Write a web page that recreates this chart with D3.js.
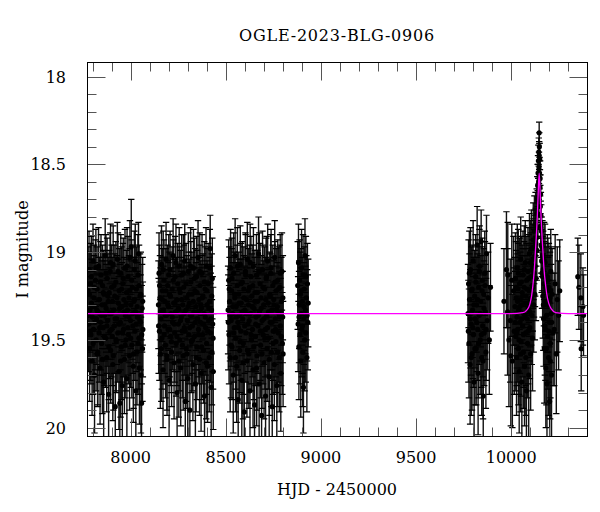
<html>
<head>
  <script src="https://d3js.org/d3.v7.min.js"></script>
  <title>OGLE-2023-BLG-0906</title>
  <style>
    body { margin: 0; background: #fff; }
    text { font-family: "DejaVu Serif", serif; fill: #000; }
  </style>
</head>
<body>
<div id="chart"></div>
<script type="text/javascript">

// photometry per season: [HJD-2450000, I mag, error]
var season1 = [
  [7776,19.22,.25],[7779,19.41,.27],[7781,19.10,.22],[7784,19.55,.30],[7786,19.33,.24],[7789,19.18,.23],[7791,19.47,.28],[7794,19.29,.25],[7797,19.62,.31],[7799,19.37,.26],
  [7802,19.05,.21],[7805,19.44,.27],[7807,19.26,.24],[7810,19.70,.33],[7812,19.31,.25],[7815,19.16,.23],[7818,19.50,.29],[7820,19.38,.26],[7823,19.21,.24],[7826,19.58,.30],
  [7828,19.34,.25],[7831,19.08,.22],[7834,19.46,.28],[7836,19.27,.24],[7839,19.66,.32],[7842,19.40,.27],[7844,19.13,.23],[7847,19.52,.29],[7850,19.30,.25],[7852,19.19,.23],
  [7855,19.43,.27],[7858,19.74,.34],[7860,19.24,.24],[7863,19.36,.26],[7866,19.02,.21],[7868,19.49,.28],[7871,19.32,.25],[7874,19.60,.31],[7876,19.15,.23],[7879,19.39,.26],
  [7882,19.28,.25],[7884,19.81,.35],[7887,19.23,.24],[7890,19.45,.27],[7892,19.11,.22],[7895,19.56,.30],[7898,19.35,.26],[7900,19.20,.24],[7903,19.48,.28],[7906,19.64,.32],
  [7908,19.07,.22],[7911,19.33,.25],[7914,19.42,.27],[7916,19.25,.24],[7919,19.88,.36],[7922,19.17,.23],[7924,19.51,.29],[7927,19.38,.26],[7930,19.04,.21],[7932,19.46,.28],
  [7935,19.29,.25],[7938,19.68,.33],[7940,19.22,.24],[7943,19.86,.36],[7946,19.40,.27],[7948,19.12,.22],[7951,19.54,.30],[7954,19.31,.25],[7956,19.76,.34],[7959,19.18,.23],
  [7962,19.44,.27],[7964,19.27,.24],[7967,19.61,.31],[7970,19.09,.22],[7972,19.36,.26],[7975,19.50,.29],[7978,19.23,.24],[7980,19.72,.33],[7983,19.33,.25],[7986,19.14,.23],
  [7988,19.47,.28],[7991,19.26,.24],[7994,19.59,.31],[7996,19.03,.21],[7999,19.39,.26],[8001,19.30,.25],[8003,18.97,.27],[8006,19.53,.30],[8009,19.20,.24],[8011,19.42,.27],
  [8014,19.65,.32],[8017,19.28,.25],[8019,19.10,.22],[8022,19.45,.28],[8025,19.34,.25],[8027,19.79,.35],[8030,19.21,.24],[8033,19.57,.30],[8035,19.37,.26],[8038,19.13,.23],
  [8041,19.01,.18],[8043,19.49,.29],[8046,19.66,.32],[8049,19.25,.24],[8052,19.40,.27],[8054,19.70,.33],[8057,19.86,.36],[8060,19.32,.25],[8062,19.55,.30],[8064,19.44,.27],
  [7777,19.36,.26],[7783,19.24,.24],[7788,19.45,.28],[7793,19.14,.23],[7798,19.31,.25],[7803,19.52,.29],[7808,19.20,.24],[7813,19.40,.27],[7817,19.09,.22],[7822,19.33,.25],
  [7827,19.57,.30],[7832,19.27,.24],[7837,19.43,.27],[7841,19.17,.23],[7846,19.36,.26],[7851,19.61,.31],[7856,19.23,.24],[7861,19.48,.28],[7865,19.30,.25],[7870,19.12,.22],
  [7875,19.42,.27],[7880,19.25,.24],[7885,19.54,.30],[7889,19.35,.26],[7894,19.06,.22],[7899,19.44,.27],[7904,19.28,.25],[7909,19.59,.31],[7913,19.19,.23],[7918,19.38,.26],
  [7923,19.50,.29],[7928,19.26,.24],[7933,19.11,.22],[7937,19.41,.27],[7942,19.32,.25],[7947,19.62,.32],[7952,19.21,.24],[7957,19.46,.28],[7961,19.15,.23],[7966,19.34,.25],
  [7971,19.53,.30],[7976,19.29,.25],[7981,19.08,.22],[7985,19.43,.27],[7990,19.37,.26],[7995,19.22,.24],[8000,19.49,.28],[8005,19.16,.23],[8010,19.35,.26],[8015,19.58,.31],
  [8020,19.27,.24],[8024,19.05,.21],[8029,19.41,.27],[8034,19.31,.25],[8039,19.52,.29],[8044,19.19,.23],[8048,19.39,.26],[8053,19.24,.24],[8058,19.47,.28],[8063,19.28,.25]
];
var season2 = [
  [8146,19.30,.25],[8149,19.12,.23],[8151,19.45,.28],[8154,19.26,.24],[8156,19.58,.31],[8159,19.38,.26],[8162,19.07,.22],[8164,19.49,.29],[8167,19.22,.24],[8170,19.67,.33],
  [8172,19.33,.25],[8175,19.16,.23],[8178,19.42,.27],[8180,19.28,.25],[8183,19.53,.30],[8186,19.04,.21],[8188,19.36,.26],[8191,19.61,.32],[8194,19.19,.23],[8196,19.44,.27],
  [8199,19.31,.25],[8202,19.73,.34],[8204,19.24,.24],[8207,19.10,.22],[8210,19.48,.28],[8212,19.35,.26],[8215,19.57,.31],[8218,19.21,.24],[8220,19.40,.27],[8223,19.02,.21],
  [8226,19.29,.25],[8228,19.63,.32],[8231,19.46,.28],[8234,19.14,.23],[8236,19.34,.25],[8239,19.52,.30],[8242,19.27,.24],[8244,19.80,.35],[8247,19.18,.23],[8250,19.41,.27],
  [8252,19.32,.25],[8255,19.08,.22],[8258,19.50,.29],[8260,19.23,.24],[8263,19.66,.33],[8266,19.37,.26],[8268,19.13,.23],[8271,19.45,.28],[8274,19.30,.25],[8276,19.59,.31],
  [8279,19.20,.24],[8282,19.43,.27],[8284,19.05,.21],[8287,19.85,.36],[8290,19.33,.25],[8292,19.55,.30],[8295,19.26,.24],[8298,19.39,.26],[8300,19.72,.34],[8303,19.11,.22],
  [8306,19.47,.28],[8308,19.29,.25],[8311,19.90,.37],[8314,19.36,.26],[8316,19.17,.23],[8319,19.51,.29],[8322,19.24,.24],[8324,19.42,.27],[8327,19.64,.32],[8330,19.09,.22],
  [8332,19.34,.25],[8335,19.48,.28],[8338,19.22,.24],[8340,19.75,.34],[8343,19.31,.25],[8346,19.14,.23],[8348,19.54,.30],[8351,19.38,.26],[8354,19.03,.21],[8356,19.44,.27],
  [8359,19.27,.24],[8362,19.61,.32],[8364,19.19,.23],[8367,19.40,.27],[8370,19.69,.33],[8372,19.32,.25],[8375,19.12,.22],[8378,19.47,.28],[8380,19.25,.24],[8383,19.56,.30],
  [8386,19.35,.26],[8388,19.82,.35],[8391,19.21,.24],[8394,19.43,.27],[8396,19.08,.22],[8399,19.52,.29],[8402,19.30,.25],[8404,19.65,.32],[8407,19.18,.23],[8410,19.39,.26],
  [8413,19.60,.31],[8415,19.28,.25],[8418,18.98,.19],[8420,19.46,.28],[8423,19.77,.34],[8425,19.33,.25],[8427,19.57,.30],[8429,19.15,.23],[8431,19.41,.27],[8434,19.68,.33],
  [8147,19.42,.27],[8152,19.19,.23],[8157,19.34,.25],[8161,19.55,.30],[8166,19.27,.24],[8171,19.10,.22],[8176,19.47,.28],[8181,19.36,.26],[8185,19.22,.24],[8190,19.59,.31],
  [8195,19.30,.25],[8200,19.13,.23],[8205,19.44,.27],[8209,19.25,.24],[8214,19.51,.29],[8219,19.37,.26],[8224,19.16,.23],[8229,19.41,.27],[8233,19.29,.25],[8238,19.06,.22],
  [8243,19.48,.28],[8248,19.33,.25],[8253,19.62,.32],[8257,19.21,.24],[8262,19.39,.26],[8267,19.27,.24],[8272,19.53,.30],[8277,19.12,.22],[8281,19.35,.26],[8286,19.45,.28],
  [8291,19.18,.23],[8296,19.58,.31],[8301,19.31,.25],[8305,19.24,.24],[8310,19.43,.27],[8315,19.08,.22],[8320,19.36,.26],[8325,19.50,.29],[8329,19.28,.25],[8334,19.15,.23],
  [8339,19.40,.27],[8344,19.60,.31],[8349,19.23,.24],[8353,19.34,.25],[8358,19.47,.28],[8363,19.11,.22],[8368,19.30,.25],[8373,19.54,.30],[8377,19.26,.24],[8382,19.41,.27],
  [8387,19.17,.23],[8392,19.37,.26],[8397,19.63,.32],[8401,19.22,.24],[8406,19.45,.28],[8411,19.32,.25],[8416,19.09,.22],[8421,19.38,.26],[8426,19.25,.24],[8433,19.49,.29]
];
var season3 = [
  [8512,19.33,.25],[8515,19.16,.23],[8517,19.47,.28],[8520,19.28,.25],[8523,19.60,.31],[8525,19.09,.22],[8528,19.39,.26],[8531,19.22,.24],[8533,19.54,.30],[8536,19.35,.26],
  [8539,19.70,.33],[8541,19.12,.23],[8544,19.43,.27],[8547,19.26,.24],[8549,19.02,.21],[8552,19.49,.29],[8555,19.31,.25],[8557,19.65,.32],[8560,19.19,.23],[8563,19.40,.27],
  [8565,19.84,.35],[8568,19.24,.24],[8571,19.36,.26],[8573,19.56,.30],[8576,19.07,.22],[8579,19.45,.28],[8581,19.29,.25],[8584,19.73,.34],[8587,19.17,.23],[8589,19.38,.26],
  [8592,19.52,.29],[8595,19.21,.24],[8597,19.91,.37],[8600,19.33,.25],[8603,19.11,.22],[8605,19.46,.28],[8608,19.27,.24],[8611,19.62,.32],[8613,19.04,.21],[8616,19.41,.27],
  [8619,19.30,.25],[8621,19.58,.31],[8624,19.20,.24],[8627,19.79,.35],[8629,19.35,.26],[8632,19.14,.23],[8635,19.50,.29],[8637,19.25,.24],[8640,19.44,.27],[8643,19.67,.33],
  [8645,19.08,.22],[8648,19.32,.25],[8651,19.87,.36],[8653,19.23,.24],[8656,19.48,.28],[8659,19.37,.26],[8661,19.13,.23],[8664,19.59,.31],[8667,19.28,.25],[8669,19.42,.27],
  [8672,19.01,.21],[8675,19.75,.34],[8677,19.34,.25],[8680,19.18,.23],[8683,19.53,.30],[8685,19.26,.24],[8688,19.93,.37],[8691,19.39,.26],[8693,19.10,.22],[8696,19.47,.28],
  [8699,19.30,.25],[8701,19.63,.32],[8704,19.21,.24],[8707,19.44,.27],[8709,19.82,.35],[8712,19.15,.23],[8715,19.36,.26],[8717,19.55,.30],[8720,19.05,.21],[8723,19.29,.25],
  [8725,19.49,.29],[8728,19.71,.34],[8731,19.24,.24],[8733,19.40,.27],[8736,19.12,.22],[8739,19.57,.31],[8741,19.33,.25],[8744,19.88,.36],[8747,19.19,.23],[8749,19.45,.28],
  [8752,19.27,.24],[8755,19.64,.32],[8757,19.03,.21],[8760,19.38,.26],[8763,19.51,.29],[8765,19.22,.24],[8768,19.76,.34],[8771,19.31,.25],[8773,19.16,.23],[8776,19.46,.28],
  [8779,19.35,.26],[8781,19.60,.31],[8784,19.20,.24],[8787,19.42,.27],[8789,19.69,.33],[8792,19.28,.25],[8795,19.11,.22],[8797,19.52,.29],[8799,19.37,.26],[8801,19.58,.30],
  [8513,19.40,.27],[8518,19.21,.24],[8522,19.36,.26],[8527,19.53,.30],[8532,19.15,.23],[8537,19.31,.25],[8542,19.46,.28],[8546,19.24,.24],[8551,19.60,.31],[8556,19.37,.26],
  [8561,19.08,.22],[8566,19.43,.27],[8570,19.29,.25],[8575,19.51,.29],[8580,19.18,.23],[8585,19.34,.25],[8590,19.63,.32],[8594,19.26,.24],[8599,19.42,.27],[8604,19.13,.23],
  [8609,19.35,.26],[8614,19.56,.30],[8618,19.22,.24],[8623,19.39,.26],[8628,19.06,.22],[8633,19.47,.28],[8638,19.31,.25],[8642,19.19,.23],[8647,19.54,.30],[8652,19.28,.25],
  [8657,19.41,.27],[8662,19.66,.33],[8666,19.23,.24],[8671,19.36,.26],[8676,19.11,.22],[8681,19.45,.28],[8686,19.32,.25],[8690,19.58,.31],[8695,19.20,.24],[8700,19.38,.26],
  [8705,19.49,.29],[8710,19.27,.24],[8714,19.14,.23],[8719,19.43,.27],[8724,19.34,.25],[8729,19.61,.32],[8734,19.25,.24],[8738,19.09,.22],[8743,19.40,.27],[8748,19.52,.29],
  [8753,19.30,.25],[8758,19.17,.23],[8762,19.44,.27],[8767,19.33,.25],[8772,19.57,.31],[8777,19.21,.24],[8782,19.37,.26],[8786,19.12,.22],[8791,19.48,.28],[8800,19.26,.24]
];
var season4 = [
  [8878,19.19,.25],[8880,19.41,.27],[8882,19.06,.22],[8884,19.54,.30],[8886,19.30,.25],[8888,19.16,.23],[8890,19.47,.28],[8892,19.24,.24],[8894,19.62,.32],[8896,19.35,.26],
  [8898,19.09,.22],[8900,19.44,.27],[8902,19.28,.25],[8904,19.57,.31],[8906,19.13,.23],[8908,19.77,.26],[8910,19.38,.26],[8912,19.21,.24],[8914,19.50,.29],[8916,19.02,.21],
  [8918,19.33,.25],[8920,19.46,.28],[8923,19.26,.24],[8926,19.60,.31],[8929,19.18,.23],[8931,19.40,.27],[8933,19.29,.25],
  [8885,19.37,.26],[8895,19.22,.24],[8903,19.42,.27],[8911,19.31,.25],[8921,19.14,.23],[8927,19.36,.26]
];
var season5 = [
  [9773,19.35,.28],[9776,19.18,.25],[9778,19.52,.31],[9781,19.27,.26],[9784,19.64,.34],[9786,19.10,.24],[9789,19.41,.29],[9792,19.22,.25],[9794,19.58,.32],[9797,19.33,.27],
  [9800,19.05,.23],[9802,19.47,.30],[9805,19.74,.36],[9808,19.25,.26],[9810,19.38,.28],[9813,19.14,.24],[9816,19.55,.32],[9818,19.30,.27],[9821,18.96,.22],[9824,19.44,.29],
  [9826,19.69,.35],[9829,19.20,.25],[9832,19.36,.28],[9834,19.08,.23],[9837,19.50,.31],[9840,19.28,.26],[9842,18.94,.18],[9845,19.60,.33],[9848,19.16,.24],[9850,19.42,.29],
  [9853,19.82,.30],[9856,19.24,.26],[9858,19.46,.30],[9861,19.12,.24],[9864,19.34,.27],[9867,19.57,.32],[9870,19.01,.22],[9874,19.39,.28],[9879,19.26,.26],[9885,19.50,.31],
  [9891,19.20,.25],
  [9775,19.45,.29],[9780,19.12,.24],[9785,19.38,.28],[9790,19.60,.33],[9795,19.21,.25],[9799,19.43,.29],[9804,19.30,.27],[9809,19.55,.32],[9814,19.17,.24],[9819,19.40,.28],
  [9823,19.27,.26],[9828,19.52,.31],[9833,19.11,.24],[9838,19.35,.27],[9843,19.47,.30],[9847,19.22,.25],[9852,19.62,.33],[9857,19.32,.27],[9862,19.19,.25],[9868,19.44,.29]
];
var season6 = [
  [9962,19.28,.30],[9975,19.10,.33],[9981,19.34,.36],[9982,19.13,.30],[9988,19.50,.38],[9995,19.39,.35],[9998,19.59,.40],[10003,19.16,.32],[10006,19.62,.38],[10012,19.22,.31],
  [10016,19.45,.36],
  [10020,19.31,.28],[10022,19.15,.26],[10024,19.48,.31],[10026,19.26,.27],[10028,19.60,.33],[10030,19.37,.29],[10032,19.09,.25],[10034,19.44,.30],[10036,19.21,.26],[10038,19.55,.32],
  [10040,19.33,.28],[10042,19.68,.35],[10044,19.18,.26],[10046,19.40,.29],[10048,19.27,.27],[10050,19.04,.24],[10052,19.51,.31],[10054,19.30,.28],[10056,19.74,.36],[10058,19.23,.27],
  [10060,19.42,.29],[10062,19.13,.25],[10064,19.57,.32],[10066,19.35,.28],[10068,19.20,.26],[10070,19.65,.34],[10072,19.29,.27],[10074,19.06,.24],[10076,19.46,.30],[10078,19.25,.27],
  [10080,19.79,.36],[10082,19.16,.25],[10084,19.38,.28],[10086,19.52,.31],[10088,19.11,.25],[10090,19.32,.28],[10092,19.70,.35],[10094,19.22,.26],[10096,19.01,.23],[10098,19.43,.29],
  [10100,19.27,.27],[10102,19.58,.32],[10104,19.14,.25],[10106,18.98,.22],[10108,19.36,.28],[10110,19.19,.26],[10112,19.49,.30],[10114,19.08,.24],[10116,18.93,.21],[10118,19.30,.27],
  [10120,19.12,.25],[10122,18.88,.20],[10124,19.24,.26],[10126,19.02,.23],[10128,18.84,.18],[10130,19.15,.24],
  [10021,19.40,.29],[10025,19.20,.26],[10029,19.46,.30],[10033,19.28,.27],[10037,19.12,.25],[10041,19.50,.31],[10045,19.31,.28],[10049,19.58,.33],[10053,19.17,.26],[10057,19.38,.28],
  [10061,19.25,.27],[10065,19.47,.30],[10069,19.10,.25],[10073,19.36,.28],[10077,19.60,.33],[10081,19.21,.26],[10085,19.29,.27],[10089,19.45,.30],[10093,19.15,.25],[10097,19.34,.28],
  [10101,19.06,.24],[10105,19.26,.27],[10109,19.10,.24],[10113,19.20,.25],[10117,19.04,.23],[10121,18.97,.21],[10125,19.08,.23],[10129,18.95,.20],
  [10132,18.92,.16],[10134,18.78,.14],[10135,18.99,.17],[10137,18.70,.13],[10138,18.86,.14],[10139,18.62,.12],[10140,18.78,.13],[10141,18.55,.10],[10142,18.69,.11],[10143,18.48,.09],
  [10144,18.60,.10],[10145,18.43,.08],[10146,18.52,.09],[10147,18.32,.06],[10147,18.45,.08],[10148,18.40,.08],[10149,18.55,.09],[10150,18.47,.09],[10151,18.63,.10],[10152,18.58,.10],
  [10153,18.74,.12],[10154,18.67,.11],[10155,18.85,.14],[10156,18.79,.13],[10157,18.96,.16],[10158,18.88,.15],[10160,19.05,.18],[10161,18.97,.17],[10162,19.12,.20],
  [10164,19.02,.20],[10166,19.25,.24],[10168,19.10,.22],[10170,19.38,.27],[10172,19.18,.24],[10174,19.55,.31],[10176,19.28,.26],[10178,19.06,.22],[10180,19.44,.29],[10182,19.66,.34],
  [10184,19.22,.25],[10186,19.36,.28],[10188,19.75,.36],[10190,19.14,.24],[10192,19.48,.30],[10194,19.30,.27],[10196,19.60,.33],[10198,19.20,.25],[10200,19.40,.28],[10202,19.85,.36],
  [10204,19.26,.26],[10206,19.52,.31],[10208,19.11,.24],[10210,19.35,.28],[10212,19.70,.35],[10215,19.24,.26],
  [10165,19.14,.23],[10169,19.30,.26],[10173,19.05,.22],[10177,19.42,.28],[10181,19.20,.25],[10185,19.55,.32],[10189,19.30,.27],[10193,19.16,.24],[10197,19.45,.29],[10201,19.28,.26],
  [10205,19.62,.33],[10209,19.22,.25],[10213,19.40,.28],
  [10220,19.46,.30],[10226,19.44,.32],[10231,19.18,.28],[10237,19.58,.34],[10242,19.27,.30],[10249,19.36,.31],[10255,19.22,.29]
];
var season7 = [
  [10350,19.14,.22],[10356,19.20,.24],[10366,19.26,.25],[10368,19.55,.24],[10377,19.31,.22],[10380,19.36,.23]
];

// model light curve
var modelT   = [7773, 10000, 10060, 10082, 10097, 10107, 10113, 10122, 10127, 10132, 10137, 10142, 10147, 10152, 10157, 10162, 10167, 10172, 10181, 10187, 10197, 10212, 10234, 10300, 10401];
var modelMag = [19.35, 19.35, 19.345, 19.33, 19.30, 19.25, 19.20, 19.09, 19.00, 18.91, 18.80, 18.66, 18.55, 18.66, 18.80, 18.91, 19.00, 19.09, 19.19, 19.24, 19.29, 19.325, 19.345, 19.35, 19.35];

var xMajor = [8000, 8500, 9000, 9500, 10000];
var yMajor = [18, 18.5, 19, 19.5, 20];

var width = 600, height = 512;
var pLeft = 87.5, pRight = 587.5, pTop = 62.5, pBottom = 436.5;

var svg = d3.select("#chart").append("svg")
  .attr("width", width)
  .attr("height", height);

var x = d3.scaleLinear().domain([7773, 10401]).range([pLeft, pRight]);
var y = d3.scaleLinear().domain([17.92, 20.05]).range([pTop, pBottom]);

var data = [].concat(season1, season2, season3, season4, season5, season6, season7);

svg.append("defs").append("clipPath").attr("id", "clip")
  .append("rect").attr("x", pLeft).attr("y", pTop).attr("width", pRight - pLeft).attr("height", pBottom - pTop);

var plot = svg.append("g").attr("clip-path", "url(#clip)");

// error bars
var bars = plot.append("g");
bars.selectAll("line.bar").data(data).enter().append("line")
  .attr("class", "bar")
  .attr("x1", function (d) { return x(d[0]); })
  .attr("x2", function (d) { return x(d[0]); })
  .attr("y1", function (d) { return y(d[1] - d[2]); })
  .attr("y2", function (d) { return y(d[1] + d[2]); })
  .attr("stroke", "#111")
  .attr("stroke-width", 1.4);

[-1, 1].forEach(function (s) {
  bars.selectAll("line.cap" + (s + 1)).data(data).enter().append("line")
    .attr("class", "cap" + (s + 1))
    .attr("x1", function (d) { return x(d[0]) - 3.2; })
    .attr("x2", function (d) { return x(d[0]) + 3.2; })
    .attr("y1", function (d) { return y(d[1] + s * d[2]); })
    .attr("y2", function (d) { return y(d[1] + s * d[2]); })
    .attr("stroke", "#000")
    .attr("stroke-width", 1.2);
});

// points
plot.append("g").selectAll("circle").data(data).enter().append("circle")
  .attr("cx", function (d) { return x(d[0]); })
  .attr("cy", function (d) { return y(d[1]); })
  .attr("r", 2.6)
  .attr("fill", "#000");

// model
var model = modelT.map(function (t, i) { return [t, modelMag[i]]; });
plot.append("path")
  .datum(model)
  .attr("fill", "none")
  .attr("stroke", "#ff00ff")
  .attr("stroke-width", 1.3)
  .attr("d", d3.line()
    .x(function (d) { return x(d[0]); })
    .y(function (d) { return y(d[1]); })
    .curve(d3.curveMonotoneX));

// frame and ticks (inward, on all four sides)
var tk = svg.append("g").attr("stroke", "#555").attr("stroke-width", 1);
var xMinor = d3.range(7800, 10401, 100).filter(function (v) { return v % 500 !== 0; });
var yMinor = d3.range(180, 201, 1).map(function (v) { return v / 10; }).filter(function (v) { return Math.round(v * 10) % 5 !== 0; });

function xTicks(vals, len) {
  vals.forEach(function (v) {
    var px = Math.round(x(v)) + 0.5;
    tk.append("line").attr("x1", px).attr("x2", px).attr("y1", pTop).attr("y2", pTop + len);
    tk.append("line").attr("x1", px).attr("x2", px).attr("y1", pBottom).attr("y2", pBottom - len);
  });
}
function yTicks(vals, len) {
  vals.forEach(function (v) {
    var py = Math.round(y(v)) + 0.5;
    tk.append("line").attr("y1", py).attr("y2", py).attr("x1", pLeft).attr("x2", pLeft + len);
    tk.append("line").attr("y1", py).attr("y2", py).attr("x1", pRight).attr("x2", pRight - len);
  });
}
xTicks(xMinor, 9);
xTicks(xMajor, 18);
yTicks(yMinor, 9);
yTicks(yMajor, 18);

svg.append("rect")
  .attr("x", pLeft).attr("y", pTop)
  .attr("width", pRight - pLeft).attr("height", pBottom - pTop)
  .attr("fill", "none").attr("stroke", "#000").attr("stroke-width", 1);

// tick labels
svg.append("g").selectAll("text").data(xMajor).enter().append("text")
  .attr("x", function (d) { return x(d); })
  .attr("y", 463)
  .attr("text-anchor", "middle")
  .style("font-size", "16px")
  .text(function (d) { return d; });

svg.append("g").selectAll("text").data(yMajor).enter().append("text")
  .attr("x", 66)
  .attr("y", function (d) { return y(d) + 6; })
  .attr("text-anchor", "end")
  .style("font-size", "16px")
  .text(function (d) { return d; });

// titles
svg.append("text")
  .attr("x", 337).attr("y", 41)
  .attr("text-anchor", "middle")
  .style("font-size", "16px")
  .style("letter-spacing", "0.8px")
  .text("OGLE-2023-BLG-0906");

svg.append("text")
  .attr("x", 337).attr("y", 495)
  .attr("text-anchor", "middle")
  .style("font-size", "16px")
  .text("HJD - 2450000");

svg.append("text")
  .attr("transform", "translate(28," + ((pTop + pBottom) / 2) + ") rotate(-90)")
  .attr("text-anchor", "middle")
  .style("font-size", "16px")
  .text("I magnitude");

</script>
</body>
</html>
